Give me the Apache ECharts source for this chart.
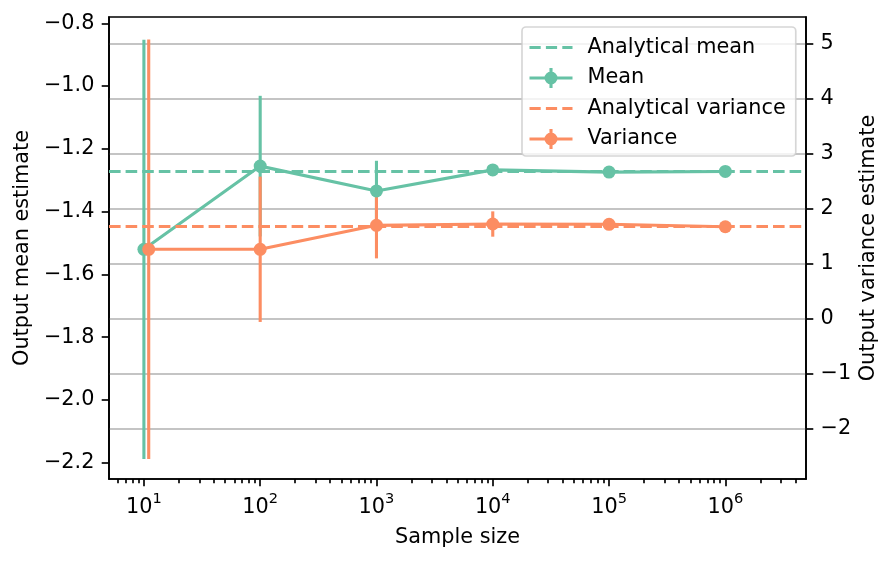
<!DOCTYPE html>
<html><head><meta charset="utf-8">
<script src="https://cdn.jsdelivr.net/npm/echarts@6/dist/echarts.min.js"></script>
<style>html,body{margin:0;padding:0;background:#fff}#c{width:894px;height:563px}</style>
</head><body><div id="c"></div>
<script>
// ---- data ----
const sampleSizes = [10, 100, 1000, 10000, 100000, 1000000];
const varianceSampleSizes = [11, 100, 1000, 10000, 100000, 1000000];
const meanValues = [-1.520, -1.255, -1.334, -1.267, -1.274, -1.272];
const meanErrors = [0.668, 0.224, 0.096, 0.012, 0.004, 0.0013];
const varianceValues = [1.265, 1.265, 1.700, 1.724, 1.719, 1.675];
const varianceErrors = [3.81, 1.32, 0.60, 0.23, 0.07, 0.02];
const analyticalMean = -1.2747;
const analyticalVariance = 1.69;
const xMajorTicks = [10, 100, 1000, 10000, 100000, 1000000];
const xMinorTicks = [6, 7, 8, 9, 20, 30, 40, 50, 60, 70, 80, 90,
  200, 300, 400, 500, 600, 700, 800, 900,
  2000, 3000, 4000, 5000, 6000, 7000, 8000, 9000,
  20000, 30000, 40000, 50000, 60000, 70000, 80000, 90000,
  200000, 300000, 400000, 500000, 600000, 700000, 800000, 900000,
  2000000, 3000000, 4000000];
const leftTicks = [-2.2, -2.0, -1.8, -1.6, -1.4, -1.2, -1.0, -0.8];
const rightTicks = [-2, -1, 0, 1, 2, 3, 4, 5];

// ---- style ----
const GREEN = '#66c2a5', ORANGE = '#fc8d62';
const FONT = 'DejaVu Sans';
const FS = 20.8;
const LW = 3.1;
const SPINE = 1.67;
const minus = s => String(s).replace('-', '\u2212');

const meanPts = sampleSizes.map((x, i) => [x, meanValues[i]]);
const varPts = varianceSampleSizes.map((x, i) => [x, varianceValues[i]]);
const meanBars = sampleSizes.map((x, i) => [x, meanValues[i] - meanErrors[i], meanValues[i] + meanErrors[i]]);
const varBars = varianceSampleSizes.map((x, i) => [x, varianceValues[i] - varianceErrors[i], varianceValues[i] + varianceErrors[i]]);

function errRender(color) {
  return function (params, api) {
    const x = api.value(0);
    const p1 = api.coord([x, api.value(1)]);
    const p2 = api.coord([x, api.value(2)]);
    return { type: 'line', shape: { x1: p1[0], y1: p1[1], x2: p2[0], y2: p2[1] },
      style: { stroke: color, lineWidth: LW } };
  };
}
// legend handles (bbox 43 x 24, same aspect as the legend item box)
const CORNERS = 'M0,0h0.01v0.01h-0.01Z M42.99,23.99h0.01v0.01h-0.01Z ';
const errIcon = 'path://' + CORNERS +
  'M0,10.45h43v3.1h-43Z M19.95,2h3.1v20h-3.1Z M15,12a6.5,6.5 0 1,1 13,0a6.5,6.5 0 1,1 -13,0Z';
const dashIcon = 'path://' + CORNERS +
  'M0,10.45h11.2v3.1h-11.2Z M16.4,10.45h11.2v3.1h-11.2Z M32.8,10.45h10.2v3.1h-10.2Z';

const xMin = 5.01, xMax = 4.94e6;
const option = {
  animation: false,
  backgroundColor: '#fff',
  textStyle: { fontFamily: FONT },
  grid: { left: 109, top: 17, width: 697, height: 462, show: true, borderColor: '#000', borderWidth: SPINE, backgroundColor: 'transparent', containLabel: false },
  legend: {
    left: 522, top: 27, orient: 'vertical', selectedMode: false,
    itemWidth: 43, itemHeight: 24, itemGap: 6.5,
    padding: [8.5, 10, 5, 7.5],
    backgroundColor: 'rgba(255,255,255,0.8)', borderColor: 'rgba(204,204,204,0.8)', borderWidth: SPINE, borderRadius: 4,
    textStyle: { fontFamily: FONT, fontSize: FS, color: '#000', padding: [0, 0, 0, 10] },
    data: [
      { name: 'Analytical mean', icon: dashIcon },
      { name: 'Mean', icon: errIcon },
      { name: 'Analytical variance', icon: dashIcon },
      { name: 'Variance', icon: errIcon }
    ]
  },
  xAxis: [
    {
      type: 'log', logBase: 10, min: xMin, max: xMax, position: 'bottom',
      name: 'Sample size', nameLocation: 'middle', nameGap: 48,
      nameTextStyle: { fontFamily: FONT, fontSize: FS, color: '#000' },
      axisLine: { show: true, onZero: false, lineStyle: { color: '#000', width: SPINE } },
      axisTick: { show: true, customValues: xMajorTicks, length: 7.3, lineStyle: { color: '#000', width: SPINE } },
      axisLabel: { customValues: xMajorTicks, margin: 13, color: '#000',
        formatter: v => '{b|10}{s|' + Math.round(Math.log10(v)) + '}',
        rich: { b: { fontFamily: FONT, fontSize: FS, color: '#000', lineHeight: 26, verticalAlign: 'bottom' },
                s: { fontFamily: FONT, fontSize: 14.6, color: '#000', lineHeight: 14.6, verticalAlign: 'top' } } },
      splitLine: { show: false }, minorTick: { show: false }
    },
    {
      type: 'log', logBase: 10, min: xMin, max: xMax, position: 'bottom',
      axisLine: { show: false, onZero: false },
      axisTick: { show: true, customValues: xMinorTicks, length: 4.2, lineStyle: { color: '#000', width: SPINE } },
      axisLabel: { show: false }, splitLine: { show: false }
    }
  ],
  yAxis: [
    {
      type: 'value', min: -2.2519, max: -0.7799, position: 'left',
      name: 'Output mean estimate', nameLocation: 'middle', nameGap: 74, nameRotate: 90,
      nameTextStyle: { fontFamily: FONT, fontSize: FS, color: '#000' },
      axisLine: { show: true, onZero: false, lineStyle: { color: '#000', width: SPINE } },
      axisTick: { show: true, customValues: leftTicks, length: 7.3, lineStyle: { color: '#000', width: SPINE } },
      axisLabel: { customValues: leftTicks, margin: 14.6, color: '#000', fontFamily: FONT, fontSize: FS,
        formatter: v => minus(v.toFixed(1)) },
      splitLine: { show: false }
    },
    {
      type: 'value', min: -2.908, max: 5.485, position: 'right',
      name: 'Output variance estimate', nameLocation: 'middle', nameGap: 52, nameRotate: 90,
      nameMoveOverlap: false,
      nameTextStyle: { fontFamily: FONT, fontSize: FS, color: '#000' },
      axisLine: { show: true, onZero: false, lineStyle: { color: '#000', width: SPINE } },
      axisTick: { show: true, customValues: rightTicks, length: 7.3, lineStyle: { color: '#000', width: SPINE } },
      axisLabel: { customValues: rightTicks, margin: 14.6, color: '#000', fontFamily: FONT, fontSize: FS,
        formatter: v => minus(Math.round(v)) },
      splitLine: { show: true, lineStyle: { color: '#b0b0b0', width: SPINE } }
    }
  ],
  series: [
    { name: 'Analytical mean', type: 'line', xAxisIndex: 0, yAxisIndex: 0, data: [], symbol: 'none',
      lineStyle: { color: GREEN, width: LW, type: [11.6, 5] }, itemStyle: { color: GREEN },
      markLine: { silent: true, symbol: 'none', label: { show: false },
        lineStyle: { color: GREEN, width: LW, type: [11.6, 5] }, data: [{ yAxis: analyticalMean }] } },
    { type: 'custom', xAxisIndex: 0, yAxisIndex: 0, data: meanBars, encode: { x: 0, y: [1, 2] }, renderItem: errRender(GREEN), silent: true },
    { name: 'Mean', type: 'line', xAxisIndex: 0, yAxisIndex: 0, data: meanPts, symbol: 'circle', symbolSize: 13, showSymbol: true,
      lineStyle: { color: GREEN, width: LW }, itemStyle: { color: GREEN } },
    { name: 'Analytical variance', type: 'line', xAxisIndex: 0, yAxisIndex: 1, data: [], symbol: 'none',
      lineStyle: { color: ORANGE, width: LW, type: [11.6, 5] }, itemStyle: { color: ORANGE },
      markLine: { silent: true, symbol: 'none', label: { show: false },
        lineStyle: { color: ORANGE, width: LW, type: [11.6, 5] }, data: [{ yAxis: analyticalVariance }] } },
    { type: 'custom', xAxisIndex: 0, yAxisIndex: 1, data: varBars, encode: { x: 0, y: [1, 2] }, renderItem: errRender(ORANGE), silent: true },
    { name: 'Variance', type: 'line', xAxisIndex: 0, yAxisIndex: 1, data: varPts, symbol: 'circle', symbolSize: 13, showSymbol: true,
      lineStyle: { color: ORANGE, width: LW }, itemStyle: { color: ORANGE } }
  ]
};
const chart = echarts.init(document.getElementById('c'), null, { renderer: 'canvas' });
chart.setOption(option);
</script></body></html>
